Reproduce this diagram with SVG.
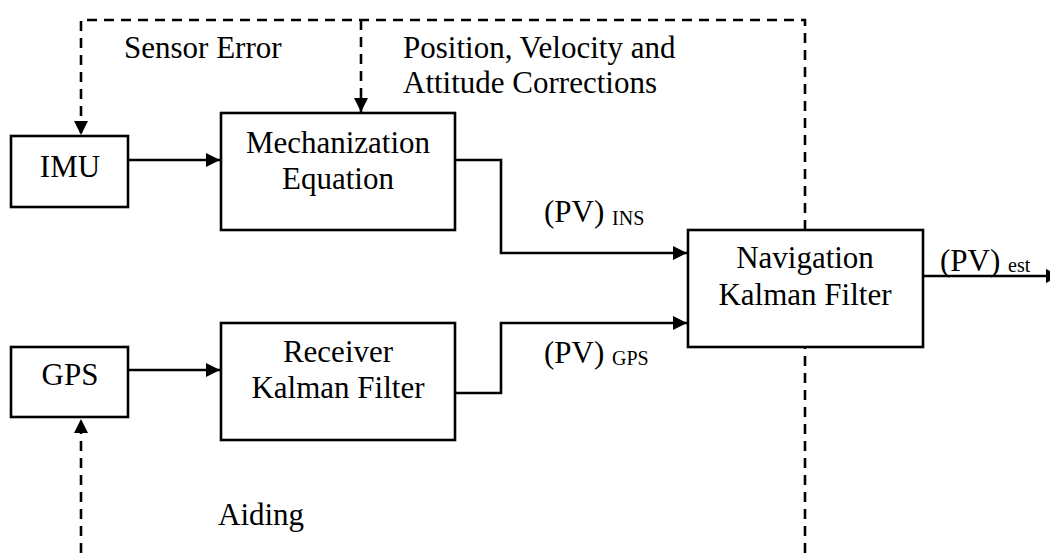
<svg xmlns="http://www.w3.org/2000/svg" width="1050" height="553" viewBox="0 0 1050 553">
<style>
.box{fill:#fff;stroke:#000;stroke-width:2.6}
.ln{fill:none;stroke:#000;stroke-width:2.6}
.dash{fill:none;stroke:#000;stroke-width:2.6;stroke-dasharray:10 7}
text{font-family:"Liberation Serif","Times New Roman",serif;font-size:31px;fill:#000}
.c{text-anchor:middle}
.sub{font-size:20px}
</style>
<defs>
<marker id="ah" viewBox="0 0 14 14" refX="14" refY="7" markerWidth="14" markerHeight="14" markerUnits="userSpaceOnUse" orient="auto">
<path d="M0,0 L14,7 L0,14 Z" fill="#000"/>
</marker>
</defs>
<rect width="1050" height="553" fill="#fff"/>
<g id="connectors">
<path class="dash" d="M81,553 V419" marker-end="url(#ah)"/>
<path class="dash" d="M805,553 V20 H81 V135" marker-end="url(#ah)"/>
<path class="dash" d="M361,20 V112" marker-end="url(#ah)"/>
<path class="ln" d="M128,160 H220" marker-end="url(#ah)"/>
<path class="ln" d="M128,370 H220" marker-end="url(#ah)"/>
<path class="ln" d="M455,160 H501 V253 H687" marker-end="url(#ah)"/>
<path class="ln" d="M455,393 H501 V323 H687" marker-end="url(#ah)"/>
<path class="ln" d="M923,276 H1060" marker-end="url(#ah)"/>
</g>
<g id="imu"><rect class="box" x="11" y="136" width="117" height="71"/><text class="c" x="70" y="177">IMU</text></g>
<g id="gps"><rect class="box" x="11" y="347" width="117" height="70"/><text class="c" x="70" y="385">GPS</text></g>
<g id="mech"><rect class="box" x="221" y="113" width="234" height="117"/><text class="c" x="338" y="153">Mechanization</text><text class="c" x="338" y="189">Equation</text></g>
<g id="rkf"><rect class="box" x="221" y="323" width="234" height="117"/><text class="c" x="338" y="362">Receiver</text><text class="c" x="338" y="398">Kalman Filter</text></g>
<g id="nkf"><rect class="box" x="688" y="230" width="235" height="117"/><text class="c" x="805" y="268">Navigation</text><text class="c" x="805" y="305">Kalman Filter</text></g>
<g id="labels">
<text x="124" y="58">Sensor Error</text>
<text x="403" y="58">Position, Velocity and</text>
<text x="403" y="93">Attitude Corrections</text>
<text x="544" y="222">(PV) <tspan class="sub" dy="3">INS</tspan></text>
<text x="544" y="363">(PV) <tspan class="sub" dy="2">GPS</tspan></text>
<text x="940" y="271">(PV) <tspan class="sub" dy="1">est</tspan></text>
<text x="218" y="525">Aiding</text>
</g>
</svg>
